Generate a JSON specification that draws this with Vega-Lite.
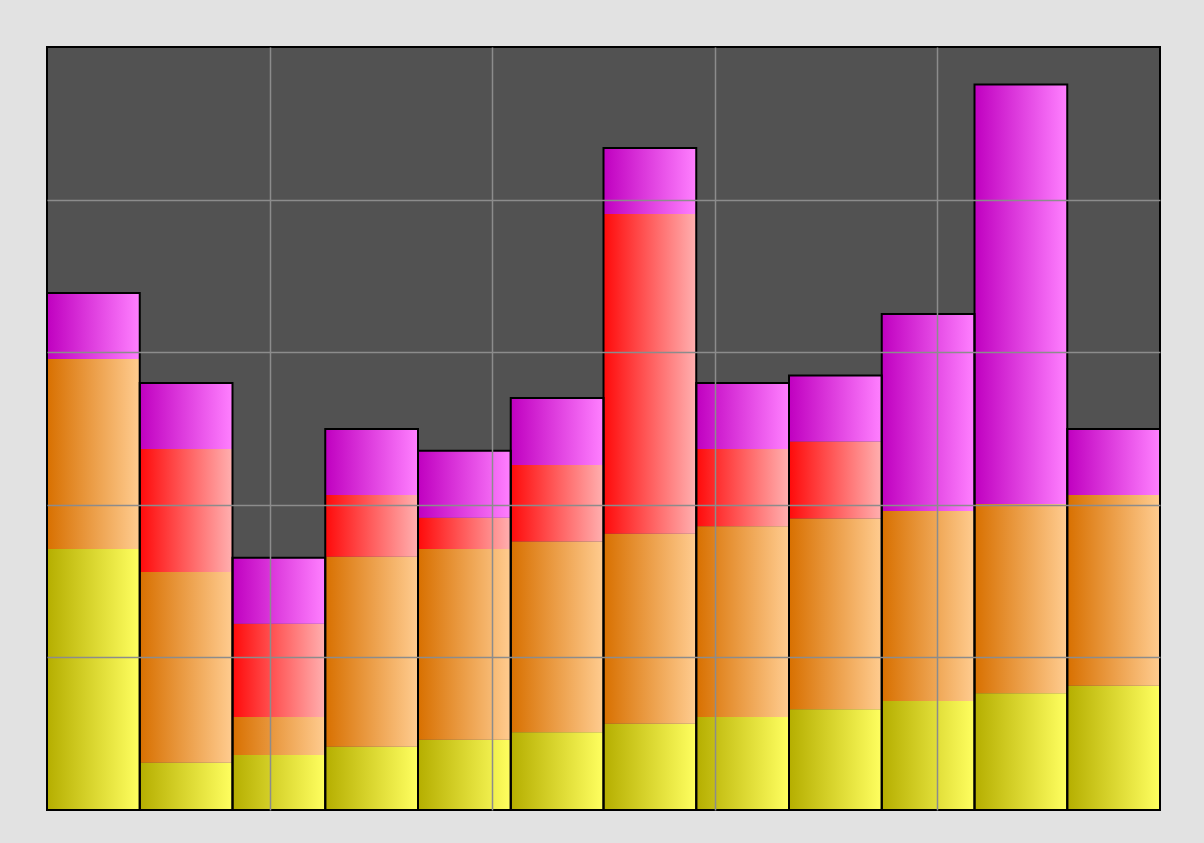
{
  "$schema": "https://vega.github.io/schema/vega-lite/v6.json",
  "autosize": {"type": "none"},
  "width": 1113,
  "height": 763,
  "padding": {"left": 47, "top": 47, "right": 44, "bottom": 33},
  "background": "#e2e2e2",
  "config": {
    "view": {"fill": "#525252", "stroke": "#000000", "strokeWidth": 2}
  },
  "layer": [
    {
      "data": {
        "values": [
          {"bar": 1, "S1": 34.2, "S2": 24.9, "S3": 0, "S4": 8.65},
          {"bar": 2, "S1": 6.2, "S2": 25.0, "S3": 16.1, "S4": 8.65},
          {"bar": 3, "S1": 7.2, "S2": 5.0, "S3": 12.2, "S4": 8.65},
          {"bar": 4, "S1": 8.3, "S2": 24.9, "S3": 8.1, "S4": 8.65},
          {"bar": 5, "S1": 9.2, "S2": 25.0, "S3": 4.1, "S4": 8.8},
          {"bar": 6, "S1": 10.2, "S2": 25.0, "S3": 10.0, "S4": 8.8},
          {"bar": 7, "S1": 11.3, "S2": 24.9, "S3": 41.9, "S4": 8.65},
          {"bar": 8, "S1": 12.2, "S2": 25.0, "S3": 10.1, "S4": 8.65},
          {"bar": 9, "S1": 13.2, "S2": 25.0, "S3": 10.1, "S4": 8.65},
          {"bar": 10, "S1": 14.3, "S2": 24.9, "S3": 0, "S4": 25.8},
          {"bar": 11, "S1": 15.3, "S2": 24.8, "S3": 0, "S4": 55.0},
          {"bar": 12, "S1": 16.3, "S2": 25.0, "S3": 0, "S4": 8.65}
        ]
      },
      "transform": [
        {"fold": ["S1", "S2", "S3", "S4"], "as": ["series", "value"]},
        {"stack": "value", "groupby": ["bar"], "sort": [{"field": "series", "order": "ascending"}], "as": ["v0", "v1"]}
      ],
      "encoding": {
        "x": {"field": "bar", "type": "ordinal", "scale": {"paddingInner": 0, "paddingOuter": 0}, "axis": null}
      },
      "layer": [
        {
          "transform": [{"filter": "datum.series === 'S1'"}],
          "mark": {"type": "bar", "strokeWidth": 0, "color": {"gradient": "linear", "x1": 0, "y1": 0, "x2": 1, "y2": 0, "stops": [{"offset": 0, "color": "#b5ae00"}, {"offset": 1, "color": "#ffff60"}]}},
          "encoding": {
            "y": {
              "field": "v1", "type": "quantitative",
              "scale": {"domain": [0, 100], "nice": false},
              "axis": {"grid": true, "values": [20, 40, 60, 80], "labels": false, "ticks": false, "domain": false, "title": null, "zindex": 1, "gridColor": "#8c8c8c", "gridWidth": 1.5, "gridOpacity": 1}
            },
            "y2": {"field": "v0"}
          }
        },
        {
          "transform": [{"filter": "datum.series === 'S2'"}],
          "mark": {"type": "bar", "strokeWidth": 0, "color": {"gradient": "linear", "x1": 0, "y1": 0, "x2": 1, "y2": 0, "stops": [{"offset": 0, "color": "#d87000"}, {"offset": 1, "color": "#ffcc90"}]}},
          "encoding": {
            "y": {"field": "v1", "type": "quantitative"},
            "y2": {"field": "v0"}
          }
        },
        {
          "transform": [{"filter": "datum.series === 'S3'"}],
          "mark": {"type": "bar", "strokeWidth": 0, "color": {"gradient": "linear", "x1": 0, "y1": 0, "x2": 1, "y2": 0, "stops": [{"offset": 0, "color": "#ff0a0a"}, {"offset": 1, "color": "#ffb0b0"}]}},
          "encoding": {
            "y": {"field": "v1", "type": "quantitative"},
            "y2": {"field": "v0"}
          }
        },
        {
          "transform": [{"filter": "datum.series === 'S4'"}],
          "mark": {"type": "bar", "strokeWidth": 0, "color": {"gradient": "linear", "x1": 0, "y1": 0, "x2": 1, "y2": 0, "stops": [{"offset": 0, "color": "#c000c0"}, {"offset": 1, "color": "#ff80ff"}]}},
          "encoding": {
            "y": {"field": "v1", "type": "quantitative"},
            "y2": {"field": "v0"}
          }
        },
        {
          "mark": {"type": "bar", "fill": null, "fillOpacity": 0, "stroke": "#000000", "strokeWidth": 2},
          "encoding": {
            "y": {"aggregate": "max", "field": "v1", "type": "quantitative", "stack": null}
          }
        }
      ]
    },
    {
      "data": {"values": [{"g": 0}, {"g": 5}]},
      "mark": {"type": "point", "opacity": 0},
      "encoding": {
        "x": {
          "field": "g", "type": "quantitative",
          "scale": {"domain": [0, 5], "nice": false},
          "axis": {"grid": true, "values": [1, 2, 3, 4], "labels": false, "ticks": false, "domain": false, "title": null, "zindex": 1, "gridColor": "#8c8c8c", "gridWidth": 1.5, "gridOpacity": 1}
        }
      }
    }
  ],
  "resolve": {"scale": {"x": "independent"}, "axis": {"x": "independent"}}
}
